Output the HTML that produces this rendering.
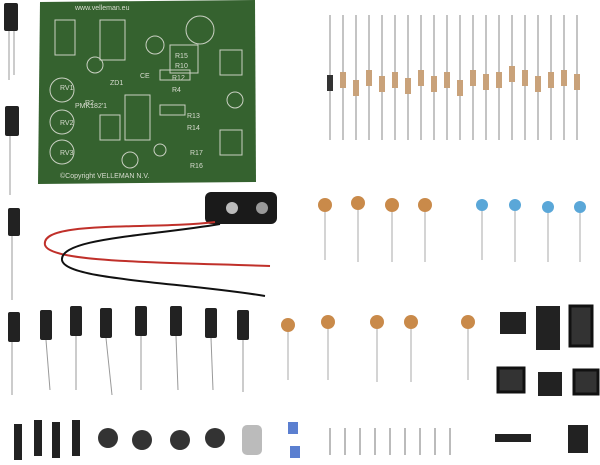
<!DOCTYPE html>
<html><head><style>body{margin:0;background:#fff}svg{display:block}</style></head><body>
<svg width="600" height="465" viewBox="0 0 600 465" xmlns="http://www.w3.org/2000/svg">
<rect width="600" height="465" fill="#fff"/>
<!-- PCB -->
<polygon points="40,2 255,0 256,182 38,184" fill="#35622f"/>
<g fill="#d8dcd0" font-family="Liberation Sans, sans-serif" font-size="7">
<text x="75" y="10">www.velleman.eu</text>
<text x="60" y="178">©Copyright VELLEMAN N.V.</text>
<text x="75" y="108">PMK182'1</text>
<text x="172" y="80">R12</text><text x="172" y="92">R4</text><text x="187" y="118">R13</text>
<text x="187" y="130">R14</text><text x="190" y="155">R17</text><text x="190" y="168">R16</text>
<text x="85" y="105">R2</text><text x="60" y="90">RV1</text><text x="60" y="125">RV2</text><text x="60" y="155">RV3</text>
<text x="175" y="58">R15</text><text x="175" y="68">R10</text><text x="110" y="85">ZD1</text><text x="140" y="78">CE</text>
</g>
<g fill="none" stroke="#c9d0c2" stroke-width="1">
<circle cx="62" cy="90" r="12"/><circle cx="62" cy="122" r="12"/><circle cx="62" cy="152" r="12"/>
<circle cx="200" cy="30" r="14"/><circle cx="95" cy="65" r="8"/><circle cx="155" cy="45" r="9"/>
<circle cx="130" cy="160" r="8"/><circle cx="160" cy="150" r="6"/><circle cx="235" cy="100" r="8"/>
<rect x="125" y="95" width="25" height="45"/><rect x="220" y="50" width="22" height="25"/><rect x="220" y="130" width="22" height="25"/>
<rect x="100" y="20" width="25" height="40"/><rect x="160" y="70" width="30" height="10"/><rect x="160" y="105" width="25" height="10"/>
<rect x="55" y="20" width="20" height="35"/><rect x="170" y="45" width="28" height="28"/><rect x="100" y="115" width="20" height="25"/>
</g>
<!-- resistors -->
<g stroke="#888" stroke-width="1">
<line x1="330" y1="15" x2="330" y2="140"/><line x1="343" y1="15" x2="343" y2="140"/><line x1="356" y1="15" x2="356" y2="140"/>
<line x1="369" y1="15" x2="369" y2="140"/><line x1="382" y1="15" x2="382" y2="140"/><line x1="395" y1="15" x2="395" y2="140"/>
<line x1="408" y1="15" x2="408" y2="140"/><line x1="421" y1="15" x2="421" y2="140"/><line x1="434" y1="15" x2="434" y2="140"/>
<line x1="447" y1="15" x2="447" y2="140"/><line x1="460" y1="15" x2="460" y2="140"/><line x1="473" y1="15" x2="473" y2="140"/>
<line x1="486" y1="15" x2="486" y2="140"/><line x1="499" y1="15" x2="499" y2="140"/><line x1="512" y1="15" x2="512" y2="140"/>
<line x1="525" y1="15" x2="525" y2="140"/><line x1="538" y1="15" x2="538" y2="140"/><line x1="551" y1="15" x2="551" y2="140"/>
<line x1="564" y1="15" x2="564" y2="140"/><line x1="577" y1="15" x2="577" y2="140"/>
</g>
<g fill="#c9a27a">
<rect x="327" y="75" width="6" height="16" fill="#333"/>
<rect x="340" y="72" width="6" height="16"/><rect x="353" y="80" width="6" height="16"/><rect x="366" y="70" width="6" height="16"/>
<rect x="379" y="76" width="6" height="16"/><rect x="392" y="72" width="6" height="16"/><rect x="405" y="78" width="6" height="16"/>
<rect x="418" y="70" width="6" height="16"/><rect x="431" y="76" width="6" height="16"/><rect x="444" y="72" width="6" height="16"/>
<rect x="457" y="80" width="6" height="16"/><rect x="470" y="70" width="6" height="16"/><rect x="483" y="74" width="6" height="16"/>
<rect x="496" y="72" width="6" height="16"/><rect x="509" y="66" width="6" height="16"/><rect x="522" y="70" width="6" height="16"/>
<rect x="535" y="76" width="6" height="16"/><rect x="548" y="72" width="6" height="16"/><rect x="561" y="70" width="6" height="16"/>
<rect x="574" y="74" width="6" height="16"/>
</g>
<!-- electrolytic caps -->
<g fill="#222"><rect x="4" y="3" width="14" height="28" rx="2"/><rect x="5" y="106" width="14" height="30" rx="2"/><rect x="8" y="208" width="12" height="28" rx="2"/>
<rect x="8" y="312" width="12" height="30" rx="2"/><rect x="40" y="310" width="12" height="30" rx="2"/><rect x="70" y="306" width="12" height="30" rx="2"/>
<rect x="100" y="308" width="12" height="30" rx="2"/><rect x="135" y="306" width="12" height="30" rx="2"/><rect x="170" y="306" width="12" height="30" rx="2"/>
<rect x="205" y="308" width="12" height="30" rx="2"/><rect x="237" y="310" width="12" height="30" rx="2"/></g>
<g stroke="#999"><line x1="9" y1="31" x2="9" y2="80"/><line x1="14" y1="31" x2="14" y2="75"/><line x1="10" y1="136" x2="10" y2="195"/>
<line x1="12" y1="236" x2="12" y2="300"/><line x1="12" y1="342" x2="12" y2="395"/><line x1="46" y1="340" x2="50" y2="390"/>
<line x1="76" y1="336" x2="76" y2="390"/><line x1="106" y1="338" x2="112" y2="395"/><line x1="141" y1="336" x2="141" y2="390"/>
<line x1="176" y1="336" x2="178" y2="390"/><line x1="211" y1="338" x2="213" y2="390"/><line x1="243" y1="340" x2="243" y2="392"/></g>
<!-- battery clip and wires -->
<rect x="205" y="192" width="72" height="32" rx="6" fill="#1a1a1a"/>
<circle cx="232" cy="208" r="6" fill="#bbb"/><circle cx="262" cy="208" r="6" fill="#999"/>
<path d="M215 222 C150 230 40 220 45 245 C50 262 150 262 270 266" stroke="#c0302a" stroke-width="2" fill="none"/>
<path d="M220 224 C150 236 60 238 62 260 C65 280 180 282 265 296" stroke="#111" stroke-width="2" fill="none"/>
<!-- ceramic caps -->
<g fill="#c98a4a"><circle cx="325" cy="205" r="7"/><circle cx="358" cy="203" r="7"/><circle cx="392" cy="205" r="7"/><circle cx="425" cy="205" r="7"/>
<circle cx="288" cy="325" r="7"/><circle cx="328" cy="322" r="7"/><circle cx="377" cy="322" r="7"/><circle cx="411" cy="322" r="7"/><circle cx="468" cy="322" r="7"/></g>
<g fill="#5aa7d8"><circle cx="482" cy="205" r="6"/><circle cx="515" cy="205" r="6"/><circle cx="548" cy="207" r="6"/><circle cx="580" cy="207" r="6"/></g>
<g stroke="#aaa"><line x1="325" y1="212" x2="325" y2="260"/><line x1="358" y1="210" x2="358" y2="262"/><line x1="392" y1="212" x2="392" y2="262"/>
<line x1="425" y1="212" x2="425" y2="262"/><line x1="482" y1="211" x2="482" y2="260"/><line x1="515" y1="211" x2="515" y2="262"/>
<line x1="548" y1="213" x2="548" y2="262"/><line x1="580" y1="213" x2="580" y2="262"/>
<line x1="288" y1="332" x2="288" y2="380"/><line x1="328" y1="329" x2="328" y2="380"/><line x1="377" y1="329" x2="377" y2="382"/>
<line x1="411" y1="329" x2="411" y2="382"/><line x1="468" y1="329" x2="468" y2="380"/></g>
<!-- ICs -->
<rect x="500" y="312" width="26" height="22" fill="#222"/><rect x="536" y="306" width="24" height="44" fill="#222"/><rect x="570" y="306" width="22" height="40" fill="#333" stroke="#111" stroke-width="3"/>
<rect x="498" y="368" width="26" height="24" fill="#333" stroke="#111" stroke-width="3"/><rect x="538" y="372" width="24" height="24" fill="#222"/><rect x="574" y="370" width="24" height="24" fill="#333" stroke="#111" stroke-width="3"/>
<!-- bottom row -->
<g fill="#222"><rect x="14" y="424" width="8" height="36"/><rect x="34" y="420" width="8" height="36"/><rect x="52" y="422" width="8" height="36"/><rect x="72" y="420" width="8" height="36"/></g>
<g fill="#333"><circle cx="108" cy="438" r="10"/><circle cx="142" cy="440" r="10"/><circle cx="180" cy="440" r="10"/><circle cx="215" cy="438" r="10"/></g>
<rect x="242" y="425" width="20" height="30" rx="5" fill="#bbb"/>
<rect x="288" y="422" width="10" height="12" fill="#5b7fd0"/><rect x="290" y="446" width="10" height="12" fill="#5b7fd0"/>
<g stroke="#bbb" stroke-width="2"><line x1="330" y1="428" x2="330" y2="455"/><line x1="345" y1="428" x2="345" y2="455"/><line x1="360" y1="428" x2="360" y2="455"/>
<line x1="375" y1="428" x2="375" y2="455"/><line x1="390" y1="428" x2="390" y2="455"/><line x1="405" y1="428" x2="405" y2="455"/>
<line x1="420" y1="428" x2="420" y2="455"/><line x1="435" y1="428" x2="435" y2="455"/><line x1="450" y1="428" x2="450" y2="455"/></g>
<rect x="495" y="434" width="36" height="8" fill="#222"/>
<rect x="568" y="425" width="20" height="28" fill="#222"/>
</svg>
</body></html>
